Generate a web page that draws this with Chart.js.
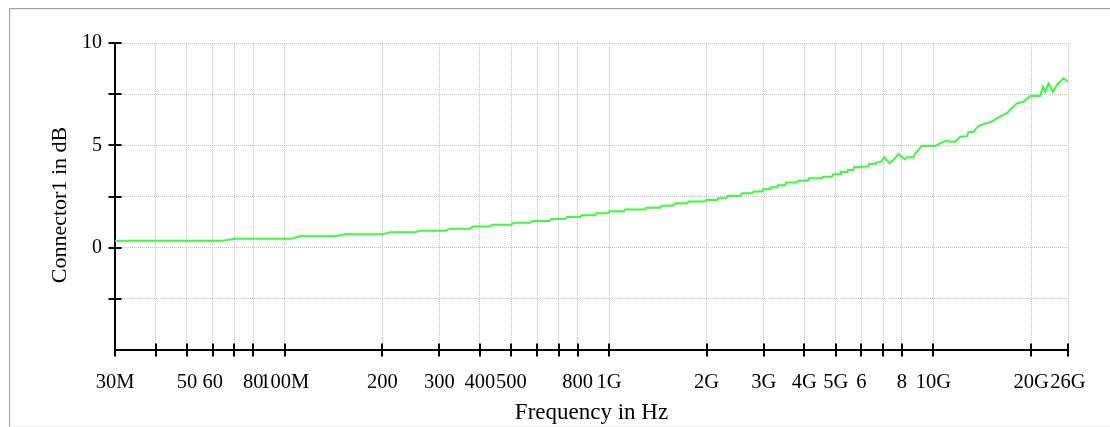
<!DOCTYPE html>
<html>
<head>
<meta charset="utf-8">
<script src="https://cdn.jsdelivr.net/npm/chart.js@4/dist/chart.umd.min.js"></script>
<style>
  html, body { margin: 0; padding: 0; background: #ffffff; }
  #wrap { position: relative; width: 1110px; height: 427px; overflow: hidden; }
  #frame { position: absolute; left: 9px; top: 8px; width: 1200px; height: 417px;
           border-top: 1px solid #9c9c9c; border-left: 1px solid #a8a8a8; border-bottom: 1px solid #ececec;
           box-shadow: inset 1px 1px 1px rgba(0,0,0,0.08); }
  canvas { position: absolute; left: 0; top: 0; }
</style>
</head>
<body>
<div id="wrap">
  <div id="frame"></div>
  <canvas id="c" width="1110" height="427"></canvas>
</div>
<script>
// Frequency in MHz
const freqMHz = [30, 64.6, 70.3, 105, 111.6, 143, 153.6, 201, 211, 252, 262, 312, 324, 373, 381, 430, 436, 500, 508, 571,
  584, 655, 665, 732, 743, 815, 826, 906, 913, 994, 1005, 1113, 1121, 1293, 1305, 1438, 1450, 1577, 1599, 1741,
  1760, 1979, 1995, 2155, 2175, 2295, 2320, 2538, 2574, 2762, 2790, 2966, 2990, 3138, 3160, 3300, 3320, 3492, 3517, 3803,
  3830, 4110, 4140, 4542, 4570, 4877, 4910, 5161, 5190, 5425, 5463, 5660, 5700, 6298, 6340, 6619, 6650, 6904, 7067, 7324,
  7535, 7808, 7998, 8187, 8289, 8685, 8793, 9218, 10134, 10497, 10953, 11215, 11676, 12099, 12690, 12834, 13298, 13556, 13948, 14625,
  15152, 15508, 16073, 16852, 17464, 18094, 18966, 19889, 21357, 21768, 22128, 22650, 23365, 24036, 24906, 25189, 26000];
// Connector1 in dB
const lossDb = [0.34, 0.34, 0.44, 0.44, 0.56, 0.56, 0.65, 0.65, 0.75, 0.75, 0.83, 0.83, 0.93, 0.93, 1.03, 1.03, 1.12, 1.12, 1.22, 1.22,
  1.30, 1.30, 1.40, 1.40, 1.50, 1.50, 1.58, 1.58, 1.68, 1.68, 1.78, 1.78, 1.86, 1.86, 1.95, 1.95, 2.05, 2.05, 2.17, 2.17,
  2.25, 2.25, 2.33, 2.33, 2.41, 2.41, 2.53, 2.53, 2.66, 2.66, 2.74, 2.74, 2.85, 2.85, 2.95, 2.95, 3.05, 3.05, 3.18, 3.18,
  3.27, 3.27, 3.39, 3.39, 3.47, 3.47, 3.59, 3.59, 3.70, 3.70, 3.80, 3.80, 3.93, 3.96, 4.09, 4.09, 4.15, 4.20, 4.42, 4.12,
  4.28, 4.58, 4.42, 4.32, 4.42, 4.42, 4.61, 4.97, 4.97, 5.10, 5.23, 5.18, 5.18, 5.42, 5.45, 5.64, 5.66, 5.83, 5.99, 6.08,
  6.16, 6.27, 6.40, 6.57, 6.81, 7.05, 7.13, 7.41, 7.41, 7.87, 7.62, 8.03, 7.62, 7.95, 8.19, 8.27, 8.11];

const xTickValues = [30, 40, 50, 60, 70, 80, 100, 200, 300, 400, 500, 600, 700, 800, 1000, 2000, 3000, 4000, 5000, 6000, 7000, 8000, 10000, 20000, 26000];
const xTickLabels = ['30M', '', '50', '60', '', '80', '100M', '200', '300', '400', '500', '', '', '800', '1G', '2G', '3G', '4G', '5G', '6', '', '8', '10G', '20G', '26G'];
const yTickValues = [-5, -2.5, 0, 2.5, 5, 7.5, 10];
const yTickLabels = ['', '', '0', '', '5', '', '10'];

const xTitle = 'Frequency in Hz';
const yTitle = 'Connector1 in dB';

const serif = "'Liberation Serif', 'Times New Roman', serif";

const crossTicks = {
  id: 'crossTicks',
  afterDraw(chart) {
    const ctx = chart.ctx;
    const a = chart.chartArea;
    const xs = chart.scales.x, ys = chart.scales.y;
    ctx.save();
    ctx.strokeStyle = '#000';
    ctx.lineWidth = 2;
    ctx.beginPath();
    xTickValues.forEach(v => {
      const px = Math.round(xs.getPixelForValue(v));
      ctx.moveTo(px, a.bottom - 6.5);
      ctx.lineTo(px, a.bottom + 6.5);
    });
    yTickValues.forEach(v => {
      if (v === yTickValues[0]) return;
      const py = Math.round(ys.getPixelForValue(v));
      ctx.moveTo(a.left - 6.5, py);
      ctx.lineTo(a.left + 6.5, py);
    });
    ctx.stroke();
    // y axis title (rotated), sitting a little below the plot's middle as in the original
    ctx.fillStyle = '#000';
    ctx.font = "22px " + serif;
    ctx.textAlign = 'center';
    ctx.textBaseline = 'middle';
    ctx.translate(60, (a.top + a.bottom) / 2 + 8.5);
    ctx.rotate(-Math.PI / 2);
    ctx.fillText(yTitle, 0, 0);
    ctx.restore();
  }
};

const points = freqMHz.map((f, i) => ({ x: f, y: lossDb[i] }));

new Chart(document.getElementById('c'), {
  type: 'line',
  data: {
    datasets: [{
      data: points,
      borderColor: '#3cfa3c',
      borderWidth: 2,
      pointRadius: 0,
      tension: 0,
      fill: false
    }]
  },
  options: {
    responsive: false,
    animation: false,
    devicePixelRatio: 1,
    layout: { padding: { left: 0, top: 43, right: 42, bottom: 0 } },
    plugins: { legend: { display: false }, tooltip: { enabled: false } },
    scales: {
      x: {
        type: 'logarithmic',
        min: 30,
        max: 26000,
        afterBuildTicks: (s) => { s.ticks = xTickValues.map(v => ({ value: v })); },
        afterFit: (s) => { s.height = 77; },
        ticks: {
          autoSkip: false,
          maxRotation: 0,
          minRotation: 0,
          padding: 20,
          color: '#000',
          font: { family: serif, size: 20.5 },
          callback: (v) => { const i = xTickValues.indexOf(v); return i >= 0 ? xTickLabels[i] : ''; }
        },
        grid: { color: '#c2c2c2', lineWidth: 1, drawTicks: false },
        border: { color: '#000', width: 2, dash: [1, 1] },
        title: { display: true, text: xTitle, color: '#000', font: { family: serif, size: 23 }, padding: { top: 0, bottom: 0 } }
      },
      y: {
        type: 'linear',
        min: -5,
        max: 10,
        afterBuildTicks: (s) => { s.ticks = yTickValues.map(v => ({ value: v })); },
        afterFit: (s) => { s.width = 115; },
        ticks: {
          autoSkip: false,
          padding: 13,
          color: '#000',
          font: { family: serif, size: 20 },
          callback: (v) => { const i = yTickValues.indexOf(v); return i >= 0 ? yTickLabels[i] : ''; }
        },
        grid: { color: '#c2c2c2', lineWidth: 1, drawTicks: false },
        border: { color: '#000', width: 2, dash: [1, 1] },
        title: { display: false, text: yTitle }
      }
    }
  },
  plugins: [crossTicks]
});
</script>
</body>
</html>
